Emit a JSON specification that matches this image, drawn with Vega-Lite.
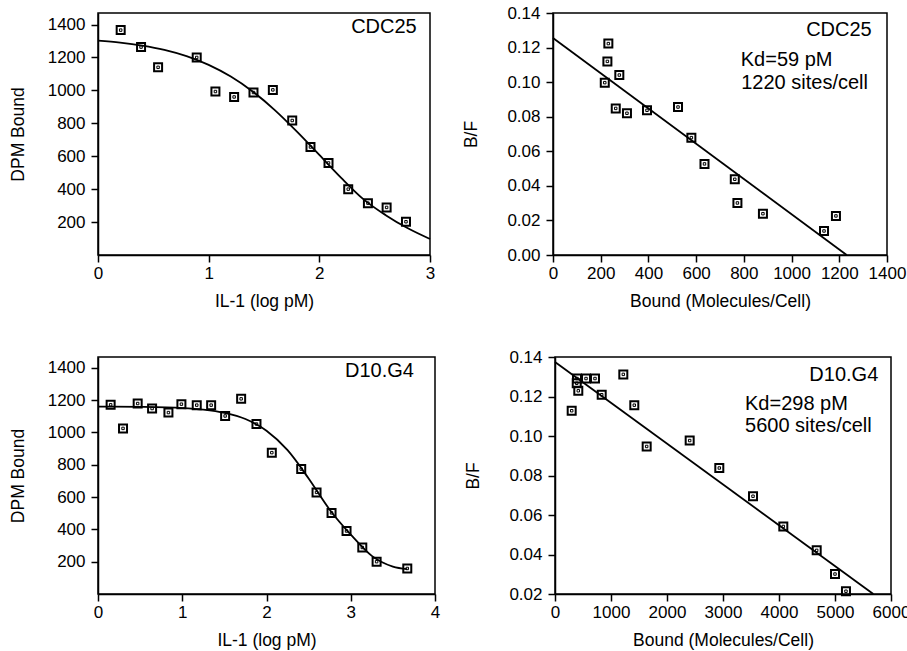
{
  "$schema": "https://vega.github.io/schema/vega-lite/v6.json",
  "background": "white",
  "padding": {"left": 8, "top": 3, "right": 5, "bottom": 5},
  "config": {
    "font": "Liberation Sans",
    "view": {"stroke": "black", "strokeWidth": 1.5},
    "axis": {"domainColor": "black", "domainWidth": 1.5, "tickColor": "black", "tickWidth": 1.5, "tickSize": 7, "labelColor": "black", "labelFontSize": 17, "titleFontSize": 17.5, "titleFontWeight": "normal", "titleColor": "black", "grid": false, "labelFont": "Liberation Sans", "titleFont": "Liberation Sans", "labelFlush": false, "labelOverlap": false},
    "axisX": {"labelPadding": 3, "titlePadding": 11},
    "axisY": {"labelPadding": 6, "titlePadding": 20}
  },
  "datasets": {
    "p1pts": [{"x":0.205,"y":1366},{"x":0.389,"y":1263},{"x":0.543,"y":1140},{"x":0.892,"y":1200},{"x":1.061,"y":993},{"x":1.230,"y":960},{"x":1.405,"y":987},{"x":1.580,"y":1003},{"x":1.755,"y":817},{"x":1.920,"y":656},{"x":2.083,"y":559},{"x":2.261,"y":400},{"x":2.439,"y":315},{"x":2.608,"y":289},{"x":2.783,"y":202}],
    "p1fit": [{"x":0,"y":1302},{"x":0.2,"y":1290},{"x":0.4,"y":1272},{"x":0.6,"y":1246},{"x":0.8,"y":1208},{"x":1.0,"y":1155},{"x":1.2,"y":1084},{"x":1.4,"y":992},{"x":1.6,"y":879},{"x":1.8,"y":748},{"x":2.0,"y":608},{"x":2.2,"y":467},{"x":2.4,"y":338},{"x":2.6,"y":242},{"x":2.8,"y":162},{"x":3.0,"y":97}],
    "p1txt": [{"label":"CDC25","x":2.88,"y":1348}],
    "p2pts": [{"x":232,"y":0.1223},{"x":228,"y":0.1120},{"x":217,"y":0.0997},{"x":278,"y":0.1041},{"x":263,"y":0.0848},{"x":310,"y":0.0820},{"x":394,"y":0.0837},{"x":524,"y":0.0856},{"x":580,"y":0.0679},{"x":635,"y":0.0527},{"x":762,"y":0.0438},{"x":773,"y":0.0301},{"x":880,"y":0.0239},{"x":1136,"y":0.0139},{"x":1186,"y":0.0226}],
    "p2fit": [{"x":0,"y":0.1255},{"x":1231,"y":0}],
    "p2name": [{"label":"CDC25","x":1336,"y":0.1265}],
    "p2txt": [{"label":"Kd=59 pM","x":787,"y":0.1092},{"label":"1220 sites/cell","x":789,"y":0.0960}],
    "p3pts": [{"x":0.150,"y":1171},{"x":0.297,"y":1025},{"x":0.471,"y":1179},{"x":0.642,"y":1148},{"x":0.836,"y":1123},{"x":0.990,"y":1175},{"x":1.172,"y":1169},{"x":1.343,"y":1169},{"x":1.509,"y":1102},{"x":1.699,"y":1208},{"x":1.881,"y":1052},{"x":2.063,"y":875},{"x":2.412,"y":773},{"x":2.594,"y":629},{"x":2.772,"y":502},{"x":2.950,"y":390},{"x":3.137,"y":288},{"x":3.307,"y":200},{"x":3.671,"y":158}],
    "p3fit": [{"x":0,"y":1160},{"x":0.5,"y":1158},{"x":1.0,"y":1151},{"x":1.25,"y":1141},{"x":1.5,"y":1121},{"x":1.75,"y":1083},{"x":2.0,"y":1010},{"x":2.25,"y":890},{"x":2.5,"y":715},{"x":2.75,"y":522},{"x":3.0,"y":368},{"x":3.25,"y":236},{"x":3.5,"y":170},{"x":3.67,"y":154}],
    "p3txt": [{"label":"D10.G4","x":3.75,"y":1342}],
    "p4pts": [{"x":393,"y":0.1291},{"x":554,"y":0.1291},{"x":714,"y":0.1291},{"x":388,"y":0.1267},{"x":416,"y":0.1229},{"x":834,"y":0.1209},{"x":298,"y":0.1128},{"x":1220,"y":0.1312},{"x":1416,"y":0.1156},{"x":1637,"y":0.0947},{"x":2405,"y":0.0977},{"x":2934,"y":0.0838},{"x":3536,"y":0.0695},{"x":4077,"y":0.0542},{"x":4673,"y":0.0421},{"x":5000,"y":0.0301},{"x":5196,"y":0.0214}],
    "p4fit": [{"x":0,"y":0.1375},{"x":5684,"y":0.02}],
    "p4name": [{"label":"D10.G4","x":5773,"y":0.1279}],
    "p4txt": [{"label":"Kd=298 pM","x":3393,"y":0.1131},{"label":"5600 sites/cell","x":3393,"y":0.1019}]
  },
  "bounds": "flush",
  "spacing": 344,
  "vconcat": [
    {
      "bounds": "flush",
      "spacing": 123,
      "hconcat": [
        {
          "width": 332, "height": 242,
          "encoding": {
            "x": {"field": "x", "type": "quantitative", "scale": {"domain": [0, 3], "nice": false}, "axis": {"values": [0, 1, 2, 3], "title": "IL-1 (log pM)"}},
            "y": {"field": "y", "type": "quantitative", "scale": {"domain": [0, 1470], "nice": false}, "axis": {"values": [200, 400, 600, 800, 1000, 1200, 1400], "format": "d", "title": "DPM Bound"}}
          },
          "layer": [
            {"data": {"name": "p1fit"}, "mark": {"type": "line", "color": "black", "strokeWidth": 1.8, "interpolate": "monotone"}},
            {"data": {"name": "p1pts"}, "mark": {"type": "point", "shape": "square", "filled": false, "stroke": "black", "strokeWidth": 2, "size": 64, "opacity": 1}},
            {"data": {"name": "p1pts"}, "mark": {"type": "point", "shape": "square", "filled": false, "stroke": "black", "strokeWidth": 1, "size": 6, "opacity": 1}},
            {"data": {"name": "p1txt"}, "mark": {"type": "text", "align": "right", "baseline": "alphabetic", "fontSize": 20, "color": "black"}, "encoding": {"text": {"field": "label"}}}
          ]
        },
        {
          "width": 334, "height": 242,
          "encoding": {
            "x": {"field": "x", "type": "quantitative", "scale": {"domain": [0, 1400], "nice": false}, "axis": {"values": [0, 200, 400, 600, 800, 1000, 1200, 1400], "format": "d", "title": "Bound (Molecules/Cell)"}},
            "y": {"field": "y", "type": "quantitative", "scale": {"domain": [0, 0.14], "nice": false}, "axis": {"values": [0, 0.02, 0.04, 0.06, 0.08, 0.1, 0.12, 0.14], "format": ".2f", "title": "B/F", "titlePadding": 26}}
          },
          "layer": [
            {"data": {"name": "p2fit"}, "mark": {"type": "line", "color": "black", "strokeWidth": 1.8}},
            {"data": {"name": "p2pts"}, "mark": {"type": "point", "shape": "square", "filled": false, "stroke": "black", "strokeWidth": 2, "size": 64, "opacity": 1}},
            {"data": {"name": "p2pts"}, "mark": {"type": "point", "shape": "square", "filled": false, "stroke": "black", "strokeWidth": 1, "size": 6, "opacity": 1}},
            {"data": {"name": "p2name"}, "mark": {"type": "text", "align": "right", "baseline": "alphabetic", "fontSize": 20, "color": "black"}, "encoding": {"text": {"field": "label"}}},
            {"data": {"name": "p2txt"}, "mark": {"type": "text", "align": "left", "baseline": "alphabetic", "fontSize": 20, "color": "black"}, "encoding": {"text": {"field": "label"}}}
          ]
        }
      ]
    },
    {
      "bounds": "flush",
      "spacing": 120,
      "hconcat": [
        {
          "width": 337, "height": 237,
          "encoding": {
            "x": {"field": "x", "type": "quantitative", "scale": {"domain": [0, 4], "nice": false}, "axis": {"values": [0, 1, 2, 3, 4], "title": "IL-1 (log pM)"}},
            "y": {"field": "y", "type": "quantitative", "scale": {"domain": [0, 1467], "nice": false}, "axis": {"values": [200, 400, 600, 800, 1000, 1200, 1400], "format": "d", "title": "DPM Bound"}}
          },
          "layer": [
            {"data": {"name": "p3fit"}, "mark": {"type": "line", "color": "black", "strokeWidth": 1.8, "interpolate": "monotone"}},
            {"data": {"name": "p3pts"}, "mark": {"type": "point", "shape": "square", "filled": false, "stroke": "black", "strokeWidth": 2, "size": 64, "opacity": 1}},
            {"data": {"name": "p3pts"}, "mark": {"type": "point", "shape": "square", "filled": false, "stroke": "black", "strokeWidth": 1, "size": 6, "opacity": 1}},
            {"data": {"name": "p3txt"}, "mark": {"type": "text", "align": "right", "baseline": "alphabetic", "fontSize": 20, "color": "black"}, "encoding": {"text": {"field": "label"}}}
          ]
        },
        {
          "width": 336, "height": 237,
          "encoding": {
            "x": {"field": "x", "type": "quantitative", "scale": {"domain": [0, 6000], "nice": false}, "axis": {"values": [0, 1000, 2000, 3000, 4000, 5000, 6000], "format": "d", "title": "Bound (Molecules/Cell)"}},
            "y": {"field": "y", "type": "quantitative", "scale": {"domain": [0.02, 0.14], "nice": false}, "axis": {"values": [0.02, 0.04, 0.06, 0.08, 0.1, 0.12, 0.14], "format": ".2f", "title": "B/F", "titlePadding": 26}}
          },
          "layer": [
            {"data": {"name": "p4fit"}, "mark": {"type": "line", "color": "black", "strokeWidth": 1.8}},
            {"data": {"name": "p4pts"}, "mark": {"type": "point", "shape": "square", "filled": false, "stroke": "black", "strokeWidth": 2, "size": 64, "opacity": 1}},
            {"data": {"name": "p4pts"}, "mark": {"type": "point", "shape": "square", "filled": false, "stroke": "black", "strokeWidth": 1, "size": 6, "opacity": 1}},
            {"data": {"name": "p4name"}, "mark": {"type": "text", "align": "right", "baseline": "alphabetic", "fontSize": 20, "color": "black"}, "encoding": {"text": {"field": "label"}}},
            {"data": {"name": "p4txt"}, "mark": {"type": "text", "align": "left", "baseline": "alphabetic", "fontSize": 20, "color": "black"}, "encoding": {"text": {"field": "label"}}}
          ]
        }
      ]
    }
  ]
}
